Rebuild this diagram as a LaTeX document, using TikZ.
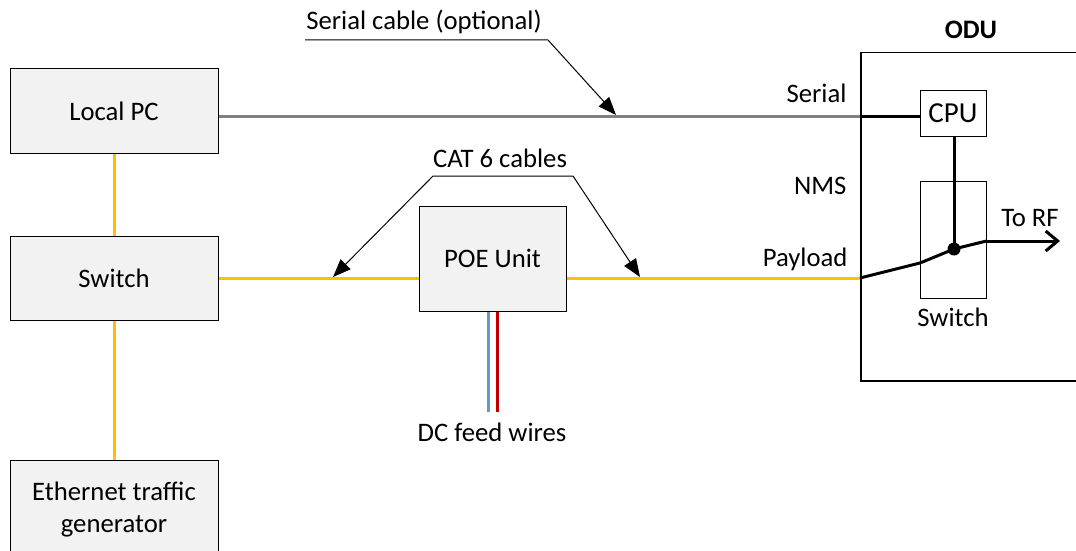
\documentclass[tikz,border=0pt]{standalone}
\usepackage{fontspec}
\setmainfont{Carlito}
\usetikzlibrary{arrows.meta}
\definecolor{ethyellow}{HTML}{FFC000}
\definecolor{sergray}{HTML}{808080}
\definecolor{boxgray}{HTML}{F2F2F2}
\definecolor{dcblue}{HTML}{5B9BD5}
\definecolor{dcred}{HTML}{C00000}

\begin{document}
\begin{tikzpicture}[x=1pt,y=-1pt,font=\fontsize{26.7}{32}\selectfont,
  box/.style={draw,fill=boxgray,line width=1pt,minimum width=208pt,minimum height=84pt,align=center,inner sep=0pt},
  eth/.style={ethyellow,line width=3pt},
  sercab/.style={sergray,line width=3pt},
  odul/.style={black,line width=3pt},
  callout/.style={black,line width=1pt,-{Triangle[length=18pt,width=14pt]}}]
  \useasboundingbox (0,0) rectangle (1076,551);
  \clip (0,0) rectangle (1076,551);
  % left column
  \node[box] (pc) at (114,111) {Local PC};
  \node[box] (sw) at (114,278) {Switch};
  \node[box,minimum height=100pt] (gen) at (114,510) {Ethernet traffic\\generator};
  \node[box,minimum width=147pt,minimum height=105pt] (poe) at (492.5,258.5) {POE Unit};
  % ODU
  \node[draw,line width=1.5pt,minimum width=240pt,minimum height=328pt,anchor=north west] (odu) at (860,52) {};
  \node[font=\fontsize{26.7}{32}\selectfont\bfseries] (odutxt) at (971,30) {ODU};
  \node[draw,line width=1pt,fill=white,minimum width=66pt,minimum height=46pt,inner sep=0pt,font=\fontsize{29}{34}\selectfont] (cpu) at (953,113) {CPU};
  \node[draw,line width=1pt,minimum width=66pt,minimum height=117pt] (isw) at (953,239.5) {};
  \node (iswtxt) at (953,317) {Switch};
  \coordinate (ser) at (860,116);
  \coordinate (hub) at (954,249);
  \coordinate (rf) at (1060,241);
  % cables
  \draw[eth] (pc) -- (sw);
  \draw[eth] (sw) -- (gen);
  \draw[eth] (sw.east) -- (poe.west |- sw.east);
  \draw[eth] (poe.east |- sw.east) -- (odu.west |- sw.east);
  \draw[sercab] (pc.east |- ser) -- (ser);
  \draw[odul] (ser) -- (cpu.west |- ser);
  \draw[odul] (cpu.south -| hub) -- (hub);
  \draw[odul,line join=round] (odu.west |- sw.east) -- (920,263) -- (hub) -- (isw.east |- rf) -- ++(-1,0);
  \draw[odul,-{Straight Barb[length=12pt,width=20pt]}] (isw.east |- rf) -- (rf);
  \fill (hub) circle (6.5pt);
  \draw[dcblue,line width=3pt] (poe.south -| 488,0) -- (488,412);
  \draw[dcred,line width=3pt] (poe.south -| 497,0) -- (497,412);
  % labels
  \node[anchor=east] (lser) at (850,93) {Serial};
  \node[anchor=east] (lnms) at (850,186) {NMS};
  \node[anchor=east] (lpay) at (851,259) {Payload};
  \node (lrf) at (1030,218) {To RF};
  \node (dctxt) at (492,432) {DC feed wires};
  % callouts
  \node (sertxt) at (424,22) {Serial cable (optional)};
  \draw[callout] (305,40) -- (548,40) -- (616,115);
  \node (cattxt) at (500,158) {CAT 6 cables};
  \draw[callout] (573,176) -- (433,176) -- (333,277);
  \draw[callout] (573,176) -- (640,277);
\end{tikzpicture}
\end{document}
